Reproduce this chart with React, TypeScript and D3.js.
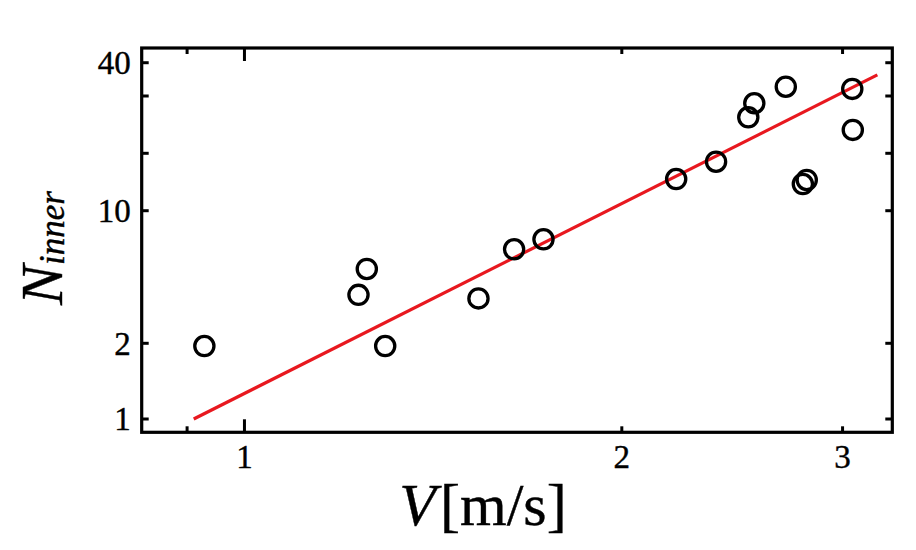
import React from 'react';
import * as d3 from 'd3';

// Data (V in m/s, N_inner)
const speeds = [0.929, 1.233, 1.252, 1.295, 1.537, 1.641, 1.732, 2.21, 2.378, 2.523, 2.551, 2.703, 2.789, 2.809, 3.054, 3.057];
const counts = [1.95, 3.6, 4.93, 1.95, 3.45, 6.26, 7.07, 14.66, 18.07, 25.8, 28.5, 32.5, 13.8, 14.49, 31.9, 23.6];
const fitSpeeds = [0.911, 3.198];
const fitCounts = [1.0, 36.0];
const xTicks = [0.9, 1, 2, 3];
const xTickLabels = ['', '1', '2', '3'];
const yTicks = [1, 2, 10, 20, 30, 40];
const yTickLabels = ['1', '2', '10', '', '', '40'];
const yDomain = [0.885, 1, 2, 10, 20, 30, 40, 45.4];
const yFrac = [1, 0.9654, 0.7684, 0.4234, 0.274, 0.1249, 0.0383, 0];

const W = 916;
const H = 550;
const M = { left: 141.7, right: 916 - 892.3, top: 48, bottom: 550 - 432.3 };

export default function App() {
  const iw = W - M.left - M.right;
  const ih = H - M.top - M.bottom;
  const x = d3.scaleLog().domain([0.828, 3.287]).range([M.left, M.left + iw]);
  const y = d3.scaleLog().domain(yDomain).range(yFrac.map((f) => M.top + f * ih));
  const line = d3.line<number>().x((_, i) => x(fitSpeeds[i])).y((_, i) => y(fitCounts[i]));
  const font = '"Liberation Serif", "Times New Roman", serif';
  const x0 = M.left, x1 = M.left + iw, y0 = M.top, y1 = M.top + ih;
  return (
    <svg width={W} height={H} style={{ position: 'absolute', left: 0, top: 0, background: '#fff' }}>
      <rect x={0} y={0} width={W} height={H} fill="#fff" />
      {/* fit line */}
      <path d={line(fitSpeeds) || ''} fill="none" stroke="#e8181f" strokeWidth={3.2} />
      {/* points */}
      {speeds.map((v, i) => (
        <circle key={i} cx={x(v)} cy={y(counts[i])} r={9.6} fill="none" stroke="#000" strokeWidth={3.3} />
      ))}
      {/* x ticks */}
      {xTicks.map((t, i) => {
        const len = t === 1 ? 13 : 6;
        return (
          <g key={'xt' + i}>
            <line x1={x(t)} x2={x(t)} y1={y1} y2={y1 - len} stroke="#000" strokeWidth={3} />
            <line x1={x(t)} x2={x(t)} y1={y0} y2={y0 + len} stroke="#000" strokeWidth={3} />
            {xTickLabels[i] && (
              <text x={x(t)} y={468} textAnchor="middle" fontFamily={font} fontSize={33} fill="#000" stroke="#000" strokeWidth={0.4}>
                {xTickLabels[i]}
              </text>
            )}
          </g>
        );
      })}
      {/* y ticks */}
      {yTicks.map((t, i) => (
        <g key={'yt' + i}>
          <line x1={x0} x2={x0 + 7} y1={y(t)} y2={y(t)} stroke="#000" strokeWidth={3} />
          <line x1={x1} x2={x1 - 7} y1={y(t)} y2={y(t)} stroke="#000" strokeWidth={3} />
          {yTickLabels[i] && (
            <text x={x0 - 11} y={y(t)} dy="0.34em" textAnchor="end" fontFamily={font} fontSize={33} fill="#000" stroke="#000" strokeWidth={0.4}>
              {yTickLabels[i]}
            </text>
          )}
        </g>
      ))}
      {/* frame */}
      <rect x={x0} y={y0} width={iw} height={ih} fill="none" stroke="#000" strokeWidth={3.2} />
      {/* x label */}
      <text x={483} y={525} textAnchor="middle" fontFamily={font} fontSize={60} fill="#000" stroke="#000" strokeWidth={0.4}>
        <tspan fontStyle="italic">V</tspan>
        <tspan dx={4}>[m/s]</tspan>
      </text>
      {/* y label */}
      <text transform="translate(61.7,248) rotate(-90)" textAnchor="middle" fontFamily={font} fill="#000" stroke="#000" strokeWidth={0.4}>
        <tspan fontStyle="italic" fontSize={60}>N</tspan>
        <tspan fontStyle="italic" fontSize={35} dy={2}>inner</tspan>
      </text>
    </svg>
  );
}
